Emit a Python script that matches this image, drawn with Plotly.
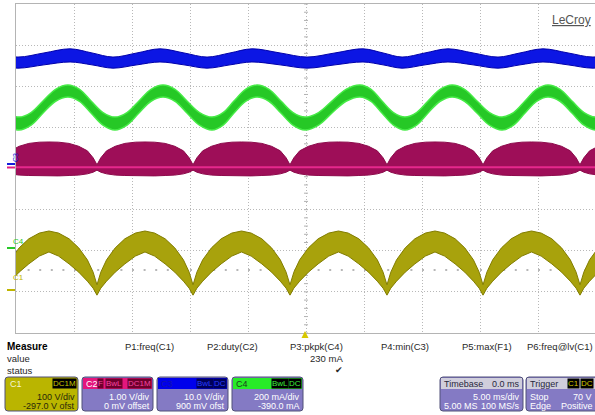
import plotly.graph_objects as go

W, H = 595, 415
FONT = "Liberation Sans, Arial, sans-serif"

# ---------------- data ----------------
# channel settings (from the channel descriptor boxes)
C1_SCALE, C1_OFFSET = 100.0, -297.0   # V/div, V offset
C2_SCALE, C2_OFFSET = 1.0, 0.0        # V/div, V offset
C3_SCALE, C3_OFFSET = 10.0, 0.9       # V/div, V offset
C4_SCALE, C4_OFFSET = 200.0, -390.0   # mA/div, mA offset
MS_PER_DIV = 5.0

# valleys of the rectified waveforms C1 / C2 (ms)
VALLEY_MS = [-1.3, 6.98, 15.26, 23.62, 31.98, 40.26, 48.62, 56.9]
# one arch between two valleys (fraction of arch), envelopes
ARCH_FRAC = [0, .04, .10, .19, .29, .40, .50, .60, .71, .81, .90, .96, 1.0]
C1_UPPER_V = [14, 45, 75, 104, 126, 140, 145, 140, 126, 104, 75, 45, 14]
C1_LOWER_V = [-11, 6, 23, 45, 65, 84, 94, 84, 65, 45, 23, 6, -11]
C2_TOP_V = [0.09, 0.26, 0.43, 0.54, 0.61, 0.64, 0.645, 0.64, 0.61, 0.54, 0.43, 0.26, 0.09]
C2_BOTTOM_V = [-0.04, -0.09, -0.13, -0.16, -0.17, -0.18, -0.18, -0.18, -0.17, -0.16, -0.13, -0.09, -0.04]
C2_BASELINE_V = 0.03

# C3 (blue) envelope
C3_T_MS = [-1.98, 0.17, 2.41, 4.66, 6.55, 8.36, 10.43, 12.41, 14.48, 16.47, 18.45, 20.34,
           22.76, 25.09, 27.50, 29.91, 31.64, 33.28, 35.26, 37.24, 39.40, 41.55, 43.45,
           45.43, 47.59, 49.74, 51.90]
C3_UPPER_V = [27.2, 26.2, 27.2, 28.2, 27.2, 26.2, 27.2, 28.2, 27.2, 26.2, 27.2, 28.2,
              27.2, 26.2, 27.2, 28.2, 27.2, 26.2, 27.2, 28.2, 27.2, 26.2, 27.2, 28.2,
              27.2, 26.2, 27.2]
C3_LOWER_V = [24.3, 23.5, 24.3, 25.0, 24.3, 23.5, 24.3, 25.0, 24.3, 23.5, 24.3, 25.0,
              24.3, 23.5, 24.3, 25.0, 24.3, 23.5, 24.3, 25.0, 24.3, 23.5, 24.3, 25.0,
              24.3, 23.5, 24.3]

# C4 (green) envelope
C4_T_MS = [-1.81, -0.78, 0.26, 1.30, 2.33, 3.41, 4.48, 5.48, 6.47, 7.50, 8.53, 9.57,
           10.60, 11.64, 12.67, 13.71, 14.74, 15.82, 16.90, 17.85, 18.79, 19.79, 20.78,
           21.81, 22.84, 23.88, 24.91, 26.08, 27.24, 28.45, 29.66, 30.61, 31.55, 32.54,
           33.53, 34.53, 35.52, 36.56, 37.59, 38.67, 39.74, 40.82, 41.90, 42.89, 43.88,
           44.87, 45.86, 46.90, 47.93, 48.97, 50.00, 51.04, 52.07]
C4_UPPER_MA = [718, 662, 640, 662, 718, 775, 796, 775,
               718, 662, 640, 662, 718, 775, 796, 775,
               718, 662, 640, 662, 718, 775, 796, 775,
               718, 662, 640, 662, 718, 775, 796, 775,
               718, 662, 640, 662, 718, 775, 796, 775,
               718, 662, 640, 662, 718, 775, 796, 775,
               718, 662, 640, 662, 718]
C4_LOWER_MA = [660, 601, 577, 601, 660, 717, 738, 717,
               660, 601, 577, 601, 660, 717, 738, 717,
               660, 601, 577, 601, 660, 717, 738, 717,
               660, 601, 577, 601, 660, 717, 738, 717,
               660, 601, 577, 601, 660, 717, 738, 717,
               660, 601, 577, 601, 660, 717, 738, 717,
               660, 601, 577, 601, 660]

TRIG_LEVEL_DIV = -2.47

MEASURE_LABELS = ["P1:freq(C1)", "P2:duty(C2)", "P3:pkpk(C4)", "P4:min(C3)", "P5:max(F1)", "P6:freq@lv(C1)"]
MEASURE_VALUES = ["", "", "230 mA", "", "", ""]
MEASURE_STATUS = ["", "", "\u2714", "", "", ""]

# ---------------- geometry helpers ----------------
X_LEFT_PX, X_DIV_PX = 16, 58.0
Y_TOP_PX, Y_BOT_PX = 4, 333
T_VIS = (W - X_LEFT_PX) / X_DIV_PX * MS_PER_DIV


def px(x):
    return x / W


def py(y):
    return 1 - y / H


def to_div(vals, scale, offset):
    return [(v + offset) / scale for v in vals]


def arches(valleys, frac, vals):
    t, y = [], []
    for a, b in zip(valleys[:-1], valleys[1:]):
        for i, (f, v) in enumerate(zip(frac, vals)):
            if t and i == 0:
                continue
            t.append(a + f * (b - a))
            y.append(v)
    return t, y


fig = go.Figure()


def band(t_lo, y_lo, t_hi, y_hi, fill, edge, shape="linear", ew=1):
    ln = dict(color=edge, width=ew, shape=shape)
    fig.add_trace(go.Scatter(x=t_lo, y=y_lo, mode="lines", line=ln, hoverinfo="skip"))
    fig.add_trace(go.Scatter(x=t_hi, y=y_hi, mode="lines", line=ln,
                             fill="tonexty", fillcolor=fill, hoverinfo="skip"))


# C3 blue
band(C3_T_MS, to_div(C3_LOWER_V, C3_SCALE, C3_OFFSET), C3_T_MS, to_div(C3_UPPER_V, C3_SCALE, C3_OFFSET),
     "rgb(12,22,228)", "rgb(0,0,170)", "spline")
# C4 green
band(C4_T_MS, to_div(C4_LOWER_MA, C4_SCALE, C4_OFFSET), C4_T_MS, to_div(C4_UPPER_MA, C4_SCALE, C4_OFFSET),
     "rgb(38,200,38)", "rgb(70,235,70)", "spline", 1.5)
# C2 magenta
tb, yb = arches(VALLEY_MS, ARCH_FRAC, C2_BOTTOM_V)
tt, yt = arches(VALLEY_MS, ARCH_FRAC, C2_TOP_V)
band(tb, to_div(yb, C2_SCALE, C2_OFFSET), tt, to_div(yt, C2_SCALE, C2_OFFSET),
     "rgb(158,14,88)", "rgb(140,10,75)")
fig.add_trace(go.Scatter(x=[VALLEY_MS[0], VALLEY_MS[-1]], y=to_div([C2_BASELINE_V] * 2, C2_SCALE, C2_OFFSET),
                         mode="lines", line=dict(color="rgb(230,40,140)", width=2), hoverinfo="skip"))
# C1 yellow
tl, yl = arches(VALLEY_MS, ARCH_FRAC, C1_LOWER_V)
tu, yu = arches(VALLEY_MS, ARCH_FRAC, C1_UPPER_V)
band(tl, to_div(yl, C1_SCALE, C1_OFFSET), tu, to_div(yu, C1_SCALE, C1_OFFSET),
     "rgb(168,162,12)", "rgb(130,125,0)")

shapes = []
ann = []

# center-line minor ticks
for k in range(-20, 21):
    shapes.append(dict(type="line", xref="x", yref="y", x0=25 - 0.17, x1=25 + 0.17, y0=k * 0.2, y1=k * 0.2,
                       line=dict(color="#b0b0b0", width=1), layer="below"))
for k in range(0, 51):
    shapes.append(dict(type="line", xref="x", yref="y", x0=k, x1=k, y0=-0.05, y1=0.05,
                       line=dict(color="#b0b0b0", width=1), layer="below"))
# trigger level dotted line
shapes.append(dict(type="line", xref="x", yref="y", x0=0, x1=T_VIS, y0=TRIG_LEVEL_DIV, y1=TRIG_LEVEL_DIV,
                   line=dict(color="#a0a0a0", width=1.5, dash="2px,9.6px"), layer="below"))

# trigger position marker
shapes.append(dict(type="path", xref="paper", yref="paper",
                   path=f"M {px(301.5)} {py(338)} L {px(308.5)} {py(338)} L {px(305)} {py(331)} Z",
                   fillcolor="rgb(215,200,0)", line=dict(width=0)))


# ground markers on the left
def gmark(y, color):
    shapes.append(dict(type="line", xref="paper", yref="paper", x0=px(7), x1=px(15), y0=py(y), y1=py(y),
                       line=dict(color=color, width=2)))


gmark(248, "rgb(40,200,40)")
gmark(290, "rgb(190,180,0)")
gmark(164, "rgb(20,30,220)")
gmark(167.5, "rgb(225,30,130)")
ann.append(dict(x=px(11), y=py(241), text="C4", font=dict(size=8, color="rgb(40,200,40)", family=FONT)))
ann.append(dict(x=px(11), y=py(284), text="C1", font=dict(size=8, color="rgb(190,180,0)", family=FONT)))
ann.append(dict(x=px(9.5), y=py(158), text="C3", textangle=-90, font=dict(size=7, color="rgb(20,30,220)", family=FONT)))

# LeCroy logo
ann.append(dict(x=px(593), y=py(11), xanchor="right", text="<u>LeCroy</u>",
                font=dict(size=12, color="rgb(85,85,85)", family=FONT)))


# measure table
def txt(x, y, s, size=10, color="black", anchor="left", bold=False):
    if bold:
        s = f"<b>{s}</b>"
    ann.append(dict(x=px(x), y=py(y), text=s, xanchor=anchor, yanchor="middle",
                    font=dict(size=size, color=color, family=FONT)))


txt(5, 346, "Measure", 10, bold=True)
txt(5, 358, "value", 9.5, color="rgb(40,40,40)")
txt(5, 370, "status", 9.5, color="rgb(40,40,40)")
col_right = [176, 260, 345, 431, 514, 595]
for xr, lab, val, st in zip(col_right, MEASURE_LABELS, MEASURE_VALUES, MEASURE_STATUS):
    txt(xr, 346, lab, 9.5, color="rgb(40,40,40)", anchor="right")
    if val:
        txt(xr, 358, val, 9.5, color="rgb(40,40,40)", anchor="right")
    if st:
        txt(xr - 6, 370, st, 9, color="rgb(40,40,40)", anchor="center")

LAV = "rgb(132,122,196)"


def rrect(x0, y0, x1, y1, r, fill, line="rgb(80,80,120)"):
    p = (f"M {px(x0 + r)} {py(y0)} L {px(x1 - r)} {py(y0)} Q {px(x1)} {py(y0)} {px(x1)} {py(y0 + r)} "
         f"L {px(x1)} {py(y1 - r)} Q {px(x1)} {py(y1)} {px(x1 - r)} {py(y1)} "
         f"L {px(x0 + r)} {py(y1)} Q {px(x0)} {py(y1)} {px(x0)} {py(y1 - r)} "
         f"L {px(x0)} {py(y0 + r)} Q {px(x0)} {py(y0)} {px(x0 + r)} {py(y0)} Z")
    shapes.append(dict(type="path", xref="paper", yref="paper", path=p, fillcolor=fill,
                       line=dict(color=line, width=1)))


def header(x0, x1, color):
    shapes.append(dict(type="rect", xref="paper", yref="paper", x0=px(x0 + 1), x1=px(x1 - 1),
                       y0=py(389), y1=py(378), fillcolor=color, line=dict(width=0)))


def badge(xr, s, bg, fg):
    ann.append(dict(x=px(xr), y=py(383.5), text=s, xanchor="right", yanchor="middle",
                    bgcolor=bg, borderpad=0, font=dict(size=8, color=fg, family=FONT)))


# C1 box
rrect(5, 377, 78, 411, 3, "rgb(186,181,0)")
txt(8, 383.5, "C1", 9, color="rgb(245,245,210)")
badge(77, "DC1M", "black", "rgb(200,195,0)")
txt(77, 396.5, "100 V/div", 9, color="rgb(40,40,10)", anchor="right")
txt(77, 406, "-297.0 V ofst", 9, color="rgb(40,40,10)", anchor="right")
# C2 box
rrect(82, 377, 153, 411, 3, LAV)
header(82, 153, "rgb(228,22,125)")
txt(84, 383.5, "C2", 9, color="white")
badge(152, "DC1M", "rgb(110,0,45)", "rgb(245,70,160)")
badge(122.5, "BwL", "rgb(110,0,45)", "rgb(245,70,160)")
badge(104.5, "F", "rgb(110,0,45)", "rgb(245,70,160)")
txt(152, 396.5, "1.00 V/div", 9, color="white", anchor="right")
txt(152, 406, "0 mV offset", 9, color="white", anchor="right")
# C3 box
rrect(157, 377, 228, 411, 3, LAV)
header(157, 228, "rgb(0,0,235)")
txt(159, 383.5, "C3", 9, color="rgb(20,20,170)")
badge(227, "DC", "rgb(0,0,90)", "rgb(40,60,255)")
badge(213.5, "BwL", "rgb(0,0,90)", "rgb(40,60,255)")
txt(227, 396.5, "10.0 V/div", 9, color="white", anchor="right")
txt(227, 406, "900 mV ofst", 9, color="white", anchor="right")
# C4 box
rrect(232, 377, 303, 411, 3, LAV)
header(232, 303, "rgb(40,235,40)")
txt(234, 383.5, "C4", 9, color="rgb(30,60,30)")
badge(302, "DC", "black", "rgb(60,240,60)")
badge(288.5, "BwL", "black", "rgb(60,240,60)")
txt(302, 396.5, "200 mA/div", 9, color="white", anchor="right")
txt(302, 406, "-390.0 mA", 9, color="white", anchor="right")
# Timebase box
rrect(440, 377, 523, 411, 3, LAV)
header(440, 523, "rgb(208,206,220)")
txt(442, 383.5, "Timebase", 9, color="rgb(40,40,60)")
txt(522, 383.5, "0.0 ms", 9, color="rgb(40,40,60)", anchor="right")
txt(522, 396.5, "5.00 ms/div", 9, color="white", anchor="right")
txt(442, 406, "5.00 MS", 9, color="white")
txt(522, 406, "100 MS/s", 9, color="white", anchor="right")
# Trigger box
rrect(526, 377, 605, 411, 3, LAV)
header(526, 605, "rgb(208,206,220)")
txt(528, 383.5, "Trigger", 9, color="rgb(40,40,60)")
badge(580, "C1", "black", "rgb(210,200,0)")
badge(594, "DC", "black", "rgb(210,200,0)")
txt(528, 396.5, "Stop", 9, color="white")
txt(594, 396.5, "70 V", 9, color="white", anchor="right")
txt(528, 406, "Edge", 9, color="white")
txt(595, 406, "Positive", 9, color="white", anchor="right")

for a in ann:
    a.setdefault("xref", "paper")
    a.setdefault("yref", "paper")
    a.setdefault("showarrow", False)

axis_common = dict(showgrid=True, gridcolor="#b8b8b8", griddash="1px,2px", gridwidth=1,
                   showticklabels=False, ticks="", zeroline=False, showline=True,
                   linecolor="#b4b4b4", linewidth=1, mirror=True, fixedrange=True)

fig.update_layout(
    width=W, height=H, margin=dict(l=0, r=0, t=0, b=0),
    paper_bgcolor="white", plot_bgcolor="white", showlegend=False,
    xaxis=dict(domain=[px(X_LEFT_PX), 1], range=[0, T_VIS], dtick=MS_PER_DIV, tick0=0, **axis_common),
    yaxis=dict(domain=[py(Y_BOT_PX), py(Y_TOP_PX)], range=[-4, 4], dtick=1, tick0=0, **axis_common),
    shapes=shapes, annotations=ann,
)

fig.write_html("out.html", config={"displayModeBar": False},
               post_script="document.body.style.margin='0';document.body.style.overflow='hidden';")
